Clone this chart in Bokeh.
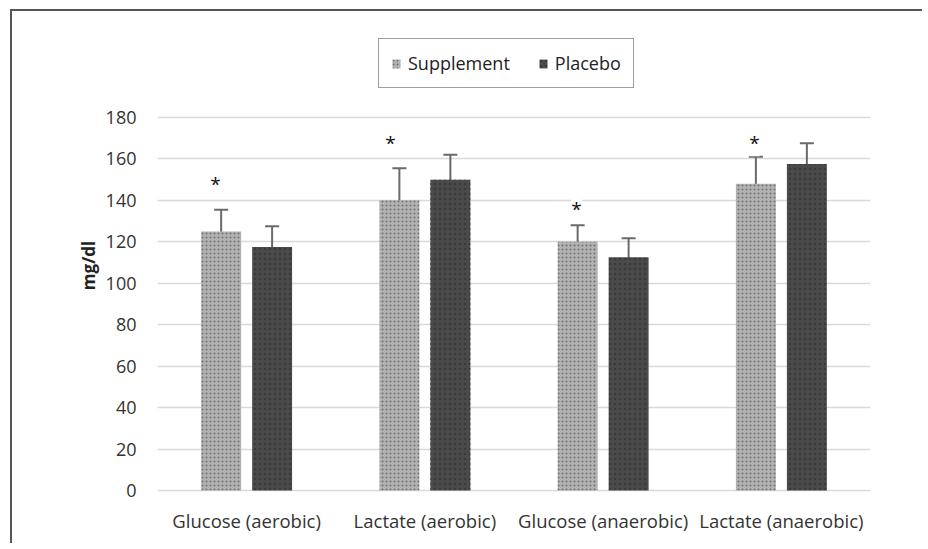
from bokeh.plotting import figure
from bokeh.models import (ColumnDataSource, Range1d, Whisker, TeeHead, Legend, LegendItem,
                          FixedTicker, LabelSet)
from bokeh.core.properties import value
from bokeh.embed import file_html
from bokeh.resources import INLINE

categories = ["Glucose (aerobic)", "Lactate (aerobic)", "Glucose (anaerobic)", "Lactate (anaerobic)"]
supplement = [125.0, 140.0, 120.0, 148.0]
supplement_err = [10.5, 15.5, 8.0, 13.0]
placebo = [117.5, 150.0, 112.5, 157.5]
placebo_err = [10.0, 12.0, 9.2, 10.0]
star_x = [0.325, 1.307, 2.351, 3.349]
star_y = [148.0, 167.5, 136.0, 167.5]
y_ticks = [0, 20, 40, 60, 80, 100, 120, 140, 160, 180]

FONT = "Open Sans"
offset = 0.143
bw = 0.224

xs_sup = [i + 0.5 - offset for i in range(len(categories))]
xs_pla = [i + 0.5 + offset for i in range(len(categories))]

src_sup = ColumnDataSource(dict(x=xs_sup, top=supplement,
                                lo=[v - e for v, e in zip(supplement, supplement_err)],
                                hi=[v + e for v, e in zip(supplement, supplement_err)]))
src_pla = ColumnDataSource(dict(x=xs_pla, top=placebo,
                                lo=[v - e for v, e in zip(placebo, placebo_err)],
                                hi=[v + e for v, e in zip(placebo, placebo_err)]))
src_star = ColumnDataSource(dict(x=star_x, y=star_y, t=["*"] * len(star_x)))

# frame extends above 180 to hold the legend (no ticks or grid there)
p = figure(width=912, height=534, output_backend="svg", toolbar_location=None,
           x_range=Range1d(0, 4), y_range=Range1d(-0.97, 218.1),
           min_border_left=145, min_border_right=54, min_border_top=27, min_border_bottom=53)
p.styles = {"margin-left": "12px", "margin-top": "11px",
            "box-shadow": "-2px -2px 0px 0px #555555"}
p.outline_line_color = None
p.background_fill_color = "white"
p.border_fill_color = "white"

p.xgrid.grid_line_color = None
p.ygrid.grid_line_color = "#d9d9d9"
p.ygrid.grid_line_width = 1.6
p.ygrid.ticker = FixedTicker(ticks=y_ticks)

r_sup = p.vbar(x="x", top="top", bottom=0, width=bw, source=src_sup,
               fill_color="#b2b2b2", line_color=None,
               hatch_pattern="dot", hatch_color="#6e6e6e", hatch_scale=4, hatch_weight=1.2)
r_pla = p.vbar(x="x", top="top", bottom=0, width=bw, source=src_pla,
               fill_color="#4a4a4a", line_color=None,
               hatch_pattern="dot", hatch_color="#3a3a3a", hatch_scale=5, hatch_weight=1.2)

for src in (src_sup, src_pla):
    w = Whisker(base="x", lower="lo", upper="hi", source=src,
                line_color="#6a6a6a", line_width=2,
                upper_head=TeeHead(size=14, line_color="#6a6a6a", line_width=2),
                lower_head=TeeHead(size=14, line_color="#6a6a6a", line_width=2))
    p.add_layout(w)

stars = LabelSet(x="x", y="y", text="t", source=src_star, text_align="center",
                 text_baseline="middle", text_font=value(FONT), text_font_size="19px",
                 text_color="#111111", background_fill_color="white")
p.add_layout(stars)

p.xaxis.ticker = FixedTicker(ticks=[0.5, 1.5, 2.5, 3.5])
p.xaxis.major_label_overrides = {0.5: categories[0], 1.5: categories[1],
                                 2.5: categories[2], 3.5: categories[3]}
p.yaxis.ticker = FixedTicker(ticks=y_ticks)
for ax in (p.xaxis, p.yaxis):
    ax.axis_line_color = None
    ax.major_tick_line_color = None
    ax.minor_tick_line_color = None
    ax.major_label_text_font = FONT
    ax.major_label_text_color = "#333333"
p.xaxis.major_label_text_font_size = "18.5px"
p.xaxis.major_label_standoff = 9
p.yaxis.major_label_text_font_size = "18px"
p.yaxis.major_label_standoff = 15
p.yaxis.axis_label = "mg/dl"
p.yaxis.axis_label_text_font = FONT
p.yaxis.axis_label_text_font_size = "17px"
p.yaxis.axis_label_text_font_style = "bold"
p.yaxis.axis_label_text_color = "#222222"
p.yaxis.axis_label_standoff = 3

legend = Legend(items=[LegendItem(label="Supplement", renderers=[r_sup]),
                       LegendItem(label="Placebo", renderers=[r_pla])],
                orientation="horizontal", location=(221, 404), margin=0,
                padding=12, spacing=28, label_standoff=7,
                glyph_width=10, glyph_height=11,
                label_text_font=FONT, label_text_font_size="18px", label_text_color="#222222",
                border_line_color="#3c3c3c", border_line_width=1.5,
                background_fill_color="white", background_fill_alpha=1.0)
p.add_layout(legend)

open("out.html", "w").write(file_html(p, INLINE))
